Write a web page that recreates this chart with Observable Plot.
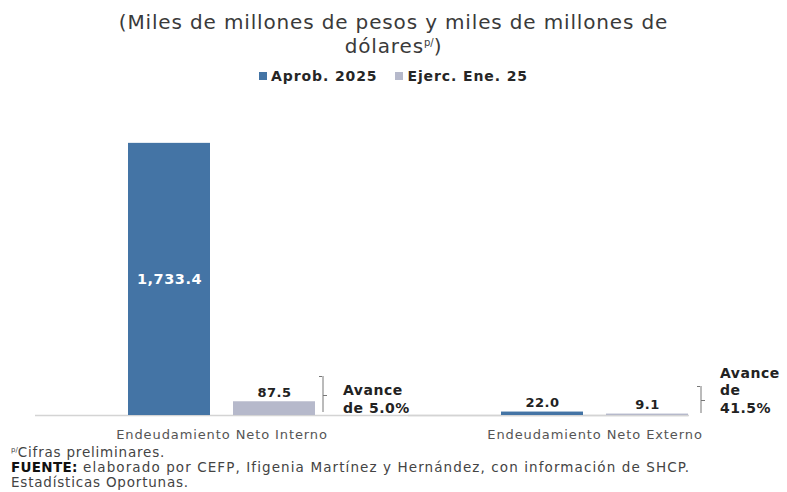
<!DOCTYPE html>
<html>
<head>
<meta charset="utf-8">
<script src="https://cdn.jsdelivr.net/npm/d3@7"></script>
<script src="https://cdn.jsdelivr.net/npm/@observablehq/plot@0.6"></script>
<style>
  html, body { margin: 0; padding: 0; background: #fff; }
  body { width: 787px; height: 492px; overflow: hidden; font-family: "DejaVu Sans", sans-serif; }
  #title { text-align: center; font-size: 20px; letter-spacing: 0.85px; line-height: 24px; color: #3a3a3a; padding-top: 10px; }
  #title sup { font-size: 10px; vertical-align: 7px; line-height: 0; letter-spacing: 0; }
  #legend { display: flex; justify-content: center; align-items: center; height: 16px; margin-top: 10px; font-size: 14px; letter-spacing: 0.9px; font-weight: bold; color: #262626; }
  #legend .item { display: flex; align-items: center; margin: 0 9px; }
  #legend .sw { width: 8px; height: 8px; margin-right: 4px; }
  #chart { margin-top: 6px; height: 355px; }
  #footer { font-size: 13.5px; letter-spacing: 1.1px; line-height: 15px; color: #444; padding-left: 11px; white-space: nowrap; }
  #footer .l1 { letter-spacing: 0.8px; }
  #footer b { color: #111; letter-spacing: 0.3px; }
  #footer sup { font-size: 7px; vertical-align: 5px; line-height: 0; letter-spacing: 0; }
</style>
</head>
<body>
<div id="title">(Miles de millones de pesos y miles de millones de<br>dólares<sup>p/</sup>)</div>
<div id="legend"></div>
<div id="chart"></div>
<div id="footer"><span class="l1"><sup>p/</sup>Cifras preliminares.</span><br><b>FUENTE:</b> elaborado por CEFP, Ifigenia Martínez y Hernández, con información de SHCP.<br><span class="l1">Estadísticas Oportunas.</span></div>
<script>
const categories = ["Endeudamiento Neto Interno", "Endeudamiento Neto Externo"];
const series = ["Aprob. 2025", "Ejerc. Ene. 25"];
const aprob = [1733.4, 22.0];
const ejerc = [87.5, 9.1];
const avance = ["Avance\nde 5.0%", "Avance\nde\n41.5%"];
const colors = ["#4474a5", "#b6b9cb"];

const data = categories.flatMap((c, i) => [
  {cat: c, serie: series[0], value: aprob[i]},
  {cat: c, serie: series[1], value: ejerc[i]}
]);
const notes = categories.map((c, i) => ({cat: c, serie: series[1], text: avance[i]}));
const fmt = d3.format(",.1f");

// legend
const legend = document.getElementById("legend");
series.forEach((s, i) => {
  const it = document.createElement("div");
  it.className = "item";
  it.innerHTML = `<span class="sw" style="background:${colors[i]}"></span><span>${s}</span>`;
  legend.appendChild(it);
});

const bracketColor = "#777";
function bracket(note, off, top, mid, bottom, textDx) {
  const d = [note];
  return [
    Plot.ruleX(d, {fx: "cat", x: "serie", y1: 0, y2: 0, dx: 41.5 + off, insetTop: -bottom, insetBottom: top, stroke: bracketColor, strokeWidth: 1}),
    Plot.ruleY(d, {fx: "cat", x1: "serie", x2: "serie", y: 0, dy: -top, insetLeft: 83 + off - 4, insetRight: -off, stroke: bracketColor, strokeWidth: 1}),
    Plot.ruleY(d, {fx: "cat", x1: "serie", x2: "serie", y: 0, dy: -mid, insetLeft: 83 + off, insetRight: -off - 5, stroke: bracketColor, strokeWidth: 1}),
    Plot.text(d, {fx: "cat", x: "serie", y: 0, text: "text", dx: textDx, dy: -3, textAnchor: "start", lineAnchor: "bottom", lineHeight: 1.22, fontSize: 14, fontWeight: "bold", fill: "#222"})
  ];
}

const baseStyle = {stroke: "#d4d4d4", strokeWidth: 1.5};
const chart = Plot.plot({
  width: 787,
  height: 355,
  marginLeft: 35,
  marginRight: 6,
  marginTop: 11,
  marginBottom: 30,
  style: {fontFamily: "DejaVu Sans, sans-serif", background: "transparent", letterSpacing: "0.5px"},
  fx: {domain: categories, paddingInner: 0, paddingOuter: 0, label: null},
  x: {domain: series, paddingInner: 0.217, paddingOuter: 0.868, axis: null},
  y: {domain: [0, 2000], axis: null},
  color: {domain: series, range: colors},
  marks: [
    Plot.ruleY([{cat: categories[0]}], {fx: "cat", y: 0, ...baseStyle}),
    Plot.ruleY([{cat: categories[1]}], {fx: "cat", y: 0, insetRight: 92, ...baseStyle}),
    Plot.ruleY([{cat: categories[1], serie: series[1]}], {fx: "cat", x1: "serie", x2: "serie", y: 0, insetLeft: -198, ...baseStyle}),
    Plot.barY(data, {fx: "cat", x: "serie", y: "value", fill: "serie"}),
    Plot.text(data.filter(d => d.value > 1000), {fx: "cat", x: "serie", y: d => d.value / 2, text: d => fmt(d.value), fill: "white", fontWeight: "bold", fontSize: 14.5}),
    Plot.text(data.filter(d => d.value <= 1000), {fx: "cat", x: "serie", y: "value", text: d => fmt(d.value), lineAnchor: "bottom", dy: -5, fill: "#222", fontWeight: "bold", fontSize: 13}),
    ...bracket(notes[0], 7, 39, 20, 3, 68.5),
    ...bracket(notes[1], 12, 29, 15, 2, 72.5),
    Plot.axisFx({anchor: "bottom", tickSize: 0, tickPadding: 14, fontSize: 13, fill: "#555", label: null})
  ]
});
d3.select(chart).selectAll("g[aria-label='fx-axis tick label'] text").attr("letter-spacing", "0.9px");
document.getElementById("chart").appendChild(chart);
</script>
</body>
</html>
